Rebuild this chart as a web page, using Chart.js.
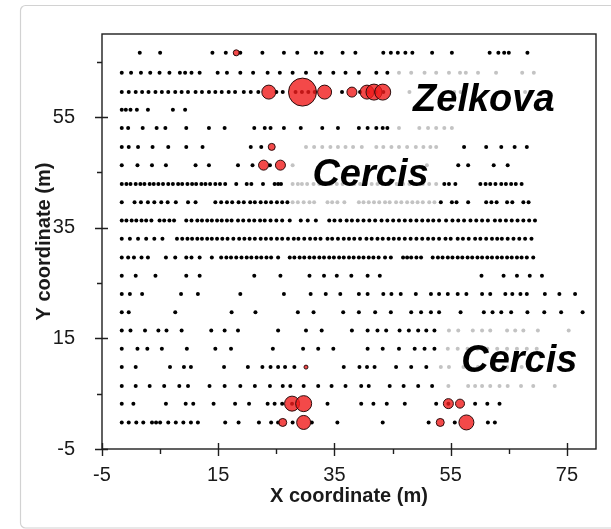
<!DOCTYPE html>
<html>
<head>
<meta charset="utf-8">
<script src="https://cdn.jsdelivr.net/npm/chart.js@4.4.1/dist/chart.umd.min.js"></script>
<style>
  html, body { margin: 0; padding: 0; background: #fff; }
  canvas { display: block; }
</style>
</head>
<body>
<canvas id="plot" width="611" height="529"></canvas>
<script>
// Y coordinate (m) of each survey row, top row first
const rowY = [66.6, 63.0, 59.5, 56.3, 53.0, 49.6, 46.3, 42.9, 39.6, 36.3, 33.0,
              29.6, 26.3, 23.0, 19.7, 16.4, 13.1, 9.8, 6.4, 3.2, -0.2];

// X coordinates (m) of stems in each row (same order as rowY)
const blackByRow = [
  [1.5, 5.0, 14.0, 16.3, 18.8, 22.6, 26.3, 28.6, 31.8, 32.8, 36.4, 38.6, 43.4, 44.7, 45.9, 47.2, 48.4, 51.8, 55.2, 61.7, 63.2, 64.2, 65.0, 68.2],
  [-1.6, 0.0, 1.7, 3.3, 4.9, 6.6, 8.4, 9.3, 10.4, 11.8, 14.9, 16.5, 18.8, 21.0, 23.5, 25.6, 27.8, 30.1, 32.5, 34.8, 36.9, 39.2, 42.2, 44.1],
  [-1.6, -0.4, 0.8, 1.9, 3.0, 4.2, 5.3, 6.4, 7.6, 8.7, 9.8, 11.1, 12.2, 13.4, 14.5, 15.6, 16.8, 17.9, 19.4, 20.6, 21.9, 25.0, 26.1, 28.3, 29.4, 30.5, 31.6, 36.3, 39.4, 40.8, 42.1, 43.4],
  [-1.6, -0.9, -0.1, 1.0, 2.9, 7.2, 9.3],
  [-1.6, -0.5, 2.0, 4.4, 5.9, 9.5, 13.4, 16.1, 21.2, 23.0, 24.0, 26.3, 29.2, 32.9, 35.6, 39.2, 40.7, 42.2, 43.3, 44.1],
  [-1.6, -0.4, 1.2, 3.7, 6.4, 9.5, 12.3, 20.6, 22.4, 57.3, 61.1, 63.7, 66.0, 68.1],
  [-1.6, 1.1, 3.6, 6.0, 11.1, 13.4, 18.4, 20.9, 23.9, 56.3, 58.0, 62.4, 64.8],
  [-1.6, -0.8, -0.1, 0.8, 1.6, 2.3, 3.2, 3.9, 4.7, 5.5, 6.4, 7.2, 8.1, 8.8, 9.7, 10.5, 11.2, 12.1, 12.8, 13.6, 14.5, 15.3, 16.2, 18.1, 19.9, 20.7, 22.7, 24.7, 25.3, 25.8, 53.9, 54.7, 55.8, 60.1, 61.0, 61.8, 62.7, 63.7, 64.5, 65.4, 66.2, 67.2],
  [-1.6, 0.6, 1.7, 2.9, 4.0, 5.2, 6.3, 7.7, 9.8, 11.1, 14.5, 15.5, 16.5, 17.4, 18.5, 19.4, 20.5, 21.3, 22.3, 23.2, 24.1, 25.1, 26.0, 26.9, 53.3, 55.2, 56.0, 58.0, 61.1, 62.0, 62.9, 64.7, 65.6, 67.5, 68.4],
  [-1.6, -0.8, 0.1, 0.9, 1.8, 2.6, 3.5, 4.9, 5.7, 6.6, 7.4, 9.5, 10.4, 11.4, 12.2, 13.1, 13.9, 14.8, 15.6, 16.5, 17.3, 18.4, 19.3, 20.3, 21.2, 22.2, 23.0, 24.0, 25.0, 26.0, 27.3, 29.2, 30.4, 31.8, 34.1, 35.0, 36.0, 37.1, 38.0, 39.0, 40.0, 41.0, 42.0, 43.1, 44.1, 45.1, 46.1, 47.1, 48.1, 49.1, 50.1, 51.1, 52.0, 53.0, 54.2, 55.3, 56.3, 57.3, 58.4, 59.4, 60.4, 61.4, 62.6, 63.5, 64.5, 65.5, 66.5, 67.5, 68.5, 69.5],
  [-1.6, -0.2, 1.2, 2.6, 4.0, 5.4, 7.9, 8.8, 9.7, 10.5, 11.4, 12.2, 13.1, 13.9, 14.8, 15.7, 16.6, 17.6, 18.6, 19.5, 20.4, 21.3, 22.3, 23.2, 24.1, 25.1, 26.0, 27.0, 28.0, 28.8, 29.8, 30.8, 31.7, 32.6, 33.8, 34.6, 35.6, 36.6, 37.5, 38.4, 39.4, 40.5, 41.4, 42.4, 43.3, 44.3, 45.2, 46.1, 47.1, 48.1, 49.1, 50.1, 51.1, 52.0, 53.0, 54.1, 55.0, 56.2, 57.1, 58.1, 59.2, 60.1, 61.1, 62.1, 63.0, 63.8, 64.8, 65.8, 66.8, 67.8, 68.9],
  [-1.6, -0.5, 0.5, 1.8, 2.9, 6.0, 7.6, 9.5, 10.4, 11.8, 13.9, 15.5, 16.4, 17.2, 18.1, 19.0, 19.9, 20.7, 21.6, 22.4, 23.3, 24.1, 25.3, 27.3, 28.1, 29.0, 29.8, 30.7, 31.5, 32.4, 33.2, 34.1, 34.9, 35.8, 36.6, 37.5, 38.3, 39.2, 40.0, 40.9, 41.7, 42.6, 43.7, 44.7, 46.8, 47.5, 48.2, 49.1, 49.9, 51.9, 52.8, 53.6, 54.5, 55.3, 56.2, 57.0, 57.9, 58.7, 59.6, 60.4, 61.3, 62.1, 63.0, 63.8, 64.7, 65.5, 66.4, 67.2, 68.1, 69.2],
  [-1.6, 0.8, 4.2, 9.5, 11.8, 21.2, 25.7, 30.7, 33.2, 35.4, 37.9, 40.7, 42.8, 60.3, 64.1, 66.4, 68.6, 70.7],
  [-1.6, -0.2, 1.9, 8.6, 11.5, 18.8, 26.3, 30.9, 33.5, 36.0, 39.2, 40.7, 43.4, 44.8, 46.4, 49.0, 51.6, 53.0, 54.5, 56.2, 57.7, 60.4, 61.8, 64.4, 65.6, 67.0, 68.1, 71.2, 73.7, 76.4],
  [-1.6, -0.4, 7.6, 17.3, 21.4, 28.7, 31.4, 36.5, 39.2, 42.0, 44.7, 48.2, 49.9, 51.6, 53.0, 56.7, 60.7, 62.2, 63.7, 65.4, 68.2, 71.1, 74.0, 77.7],
  [-1.6, -0.1, 2.4, 4.7, 6.1, 8.7, 13.8, 16.1, 18.4, 25.3, 30.1, 32.8, 38.0, 40.7, 42.4, 43.9, 46.2, 47.8, 49.4, 50.8, 52.2],
  [-1.6, 1.1, 2.8, 5.3, 9.6, 14.5, 17.2, 24.4, 29.6, 32.2, 34.8, 40.7, 43.3, 46.1, 48.8, 50.5, 52.2],
  [-1.6, 0.8, 6.7, 9.1, 10.3, 16.0, 20.1, 22.6, 24.0, 25.3, 26.5, 28.1, 36.6, 39.3, 40.6, 41.9, 45.6, 48.2, 50.8],
  [-1.6, 0.8, 3.2, 5.7, 8.3, 9.8, 13.5, 16.1, 18.8, 21.3, 23.9, 26.1, 27.4, 29.7, 32.2, 34.5, 36.9, 39.6, 40.9, 44.5, 46.9, 49.4, 51.8],
  [-1.6, 0.4, 6.0, 9.4, 10.7, 14.2, 17.9, 20.3, 23.5, 24.7, 26.0, 27.7, 33.8, 39.6, 41.7, 44.0, 47.1, 52.5, 54.6, 59.2, 61.3, 63.4],
  [-1.6, -0.4, 0.9, 2.1, 3.6, 4.3, 5.0, 6.4, 7.7, 9.0, 10.3, 11.5, 16.2, 18.5, 22.0, 24.1, 25.3, 27.8, 31.1, 35.5, 43.3, 51.2, 55.7, 61.4, 62.6]
];

// X coordinates (m) of stems inside the shaded patches, per row
const grayByRow = [
  [],
  [46.1, 48.2, 50.5, 52.5, 54.7, 56.6, 57.6, 59.7, 62.8, 67.3, 69.3],
  [47.9, 55.6, 56.7, 67.8, 68.6],
  [],
  [46.1, 49.6, 51.1, 52.5, 53.9, 55.2],
  [30.1, 31.5, 32.9, 34.3, 35.6, 36.9, 38.2, 39.7, 42.2, 43.4, 44.8, 46.1, 47.5, 49.0, 50.3, 51.5, 52.5],
  [27.8, 50.9],
  [27.8, 28.7, 29.4, 30.3, 31.4, 32.4, 33.4, 34.4, 35.4, 36.4, 37.4, 38.4, 39.4, 40.4, 41.4, 42.4, 43.4, 44.4, 45.7, 46.8, 47.9, 49.1, 50.2, 51.3, 52.5],
  [27.8, 28.7, 29.7, 30.7, 31.5, 33.8, 34.6, 35.5, 36.7, 39.2, 40.0, 40.9, 41.8, 42.7, 43.7, 44.5, 45.6, 46.5, 47.5, 48.4, 49.3, 50.2, 51.3, 52.2],
  [], [], [], [], [], [],
  [54.7, 56.3, 58.8, 60.4, 61.8, 64.7, 66.1, 67.5, 70.0, 75.3],
  [54.5, 56.2, 57.9, 59.6, 61.3, 63.0, 64.7, 66.4, 68.1, 69.8],
  [53.3, 54.7, 57.2, 59.7, 62.2, 64.7, 67.2],
  [54.6, 58.0, 59.2, 60.4, 61.8, 63.4, 64.8, 67.1, 69.2, 72.9],
  [],
  []
];

// Highlighted stems: position (m) and symbol size
const bubbleX = [18.1, 23.7, 29.5, 33.3, 38.0, 40.6, 41.8, 43.3, 24.2, 22.8, 25.7, 30.1, 27.7, 29.7, 54.6, 56.6, 26.1, 29.7, 53.2, 57.7];
const bubbleY = [66.6, 59.5, 59.5, 59.5, 59.5, 59.5, 59.5, 59.5, 49.6, 46.3, 46.3, 9.8, 3.2, 3.2, 3.2, 3.2, -0.2, -0.2, -0.2, -0.2];
const bubbleSize = [3, 7, 14, 7, 5, 7, 8, 8, 3.5, 5, 5, 2, 7.5, 8, 5, 4.5, 4, 7, 4, 7.5];

// Axis ticks
const xTicks = [-5, 15, 35, 55, 75];
const xMinorTicks = [5, 25, 45, 65];
const yTicks = [-5, 15, 35, 55];
const yMinorTicks = [5, 25, 45, 65];

// Species labels
const speciesNames = ['Zelkova', 'Cercis', 'Cercis'];
const speciesX = [60.7, 41.2, 66.8];
const speciesY = [56.0, 42.5, 9.0];

const FONT = '"Liberation Sans", Arial, sans-serif';

const blackPoints = rowY.flatMap((y, i) => blackByRow[i].map(x => ({ x, y })));
const grayPoints = rowY.flatMap((y, i) => grayByRow[i].map(x => ({ x, y })));
const bubblePoints = bubbleX.map((x, i) => ({ x, y: bubbleY[i], r: bubbleSize[i] }));

const decorations = {
  id: 'decorations',
  beforeDraw(chart) {
    const ctx = chart.ctx;
    ctx.save();
    ctx.fillStyle = '#ffffff';
    ctx.fillRect(0, 0, chart.width, chart.height);
    ctx.strokeStyle = '#d2d2d2';
    ctx.lineWidth = 1.2;
    ctx.beginPath();
    ctx.roundRect(20.5, 5.5, 640, 522.5, 5);
    ctx.stroke();
    ctx.restore();
  },
  afterDatasetsDraw(chart) {
    const ctx = chart.ctx;
    const xs = chart.scales.x, ys = chart.scales.y;
    ctx.save();
    ctx.fillStyle = '#000';
    ctx.font = 'italic bold 38px ' + FONT;
    ctx.textAlign = 'center';
    ctx.textBaseline = 'alphabetic';
    speciesNames.forEach((name, i) => {
      ctx.fillText(name, xs.getPixelForValue(speciesX[i]), ys.getPixelForValue(speciesY[i]));
    });
    ctx.restore();
  },
  afterDraw(chart) {
    const ctx = chart.ctx;
    const a = chart.chartArea;
    const xs = chart.scales.x, ys = chart.scales.y;
    ctx.save();
    ctx.strokeStyle = '#1e1e1e';
    ctx.lineWidth = 1.4;
    ctx.strokeRect(a.left, a.top, a.right - a.left, a.bottom - a.top);
    ctx.beginPath();
    xTicks.forEach(v => {
      const px = Math.round(xs.getPixelForValue(v)) + 0.5;
      ctx.moveTo(px, a.bottom - 6); ctx.lineTo(px, a.bottom + 7);
    });
    xMinorTicks.forEach(v => {
      const px = Math.round(xs.getPixelForValue(v)) + 0.5;
      ctx.moveTo(px, a.bottom); ctx.lineTo(px, a.bottom + 5);
    });
    yTicks.forEach(v => {
      const py = Math.round(ys.getPixelForValue(v)) + 0.5;
      ctx.moveTo(a.left - 7, py); ctx.lineTo(a.left + 6, py);
    });
    yMinorTicks.forEach(v => {
      const py = Math.round(ys.getPixelForValue(v)) + 0.5;
      ctx.moveTo(a.left - 5, py); ctx.lineTo(a.left, py);
    });
    ctx.stroke();

    ctx.fillStyle = '#1a1a1a';
    ctx.font = 'bold 20px ' + FONT;
    ctx.textAlign = 'center';
    ctx.textBaseline = 'middle';
    ctx.fillText('X coordinate (m)', (a.left + a.right) / 2, 496);
    ctx.translate(44, (a.top + a.bottom) / 2);
    ctx.rotate(-Math.PI / 2);
    ctx.fillText('Y coordinate (m)', 0, 0);
    ctx.restore();
  }
};

new Chart(document.getElementById('plot'), {
  type: 'scatter',
  data: {
    datasets: [
      {
        type: 'bubble',
        data: bubblePoints,
        backgroundColor: 'rgba(240, 28, 28, 0.8)',
        borderColor: '#2b0c0c',
        borderWidth: 1,
        order: 0
      },
      {
        data: blackPoints,
        pointRadius: 2,
        pointBackgroundColor: '#000',
        pointBorderWidth: 0,
        order: 1
      },
      {
        data: grayPoints,
        pointRadius: 2,
        pointBackgroundColor: '#c3c3c3',
        pointBorderWidth: 0,
        order: 2
      }
    ]
  },
  options: {
    responsive: false,
    animation: false,
    devicePixelRatio: 1,
    events: [],
    layout: { padding: { left: 0, right: 9, top: 34, bottom: 0 } },
    plugins: { legend: { display: false }, tooltip: { enabled: false } },
    scales: {
      x: {
        type: 'linear', min: -5, max: 80,
        border: { display: false },
        grid: { display: false },
        afterBuildTicks: s => { s.ticks = xTicks.map(v => ({ value: v })); },
        afterFit: s => { s.height = 80; },
        ticks: {
          autoSkip: false, maxRotation: 0, padding: 6, color: '#1a1a1a',
          font: { family: FONT, size: 20 },
          callback: v => String(v)
        }
      },
      y: {
        type: 'linear', min: -5, max: 70,
        border: { display: false },
        grid: { display: false },
        afterBuildTicks: s => { s.ticks = yTicks.map(v => ({ value: v })); },
        afterFit: s => { s.width = 102; },
        ticks: {
          autoSkip: false, padding: 19, color: '#1a1a1a',
          font: { family: FONT, size: 20 },
          callback: v => String(v)
        }
      }
    }
  },
  plugins: [decorations]
});
</script>
</body>
</html>
